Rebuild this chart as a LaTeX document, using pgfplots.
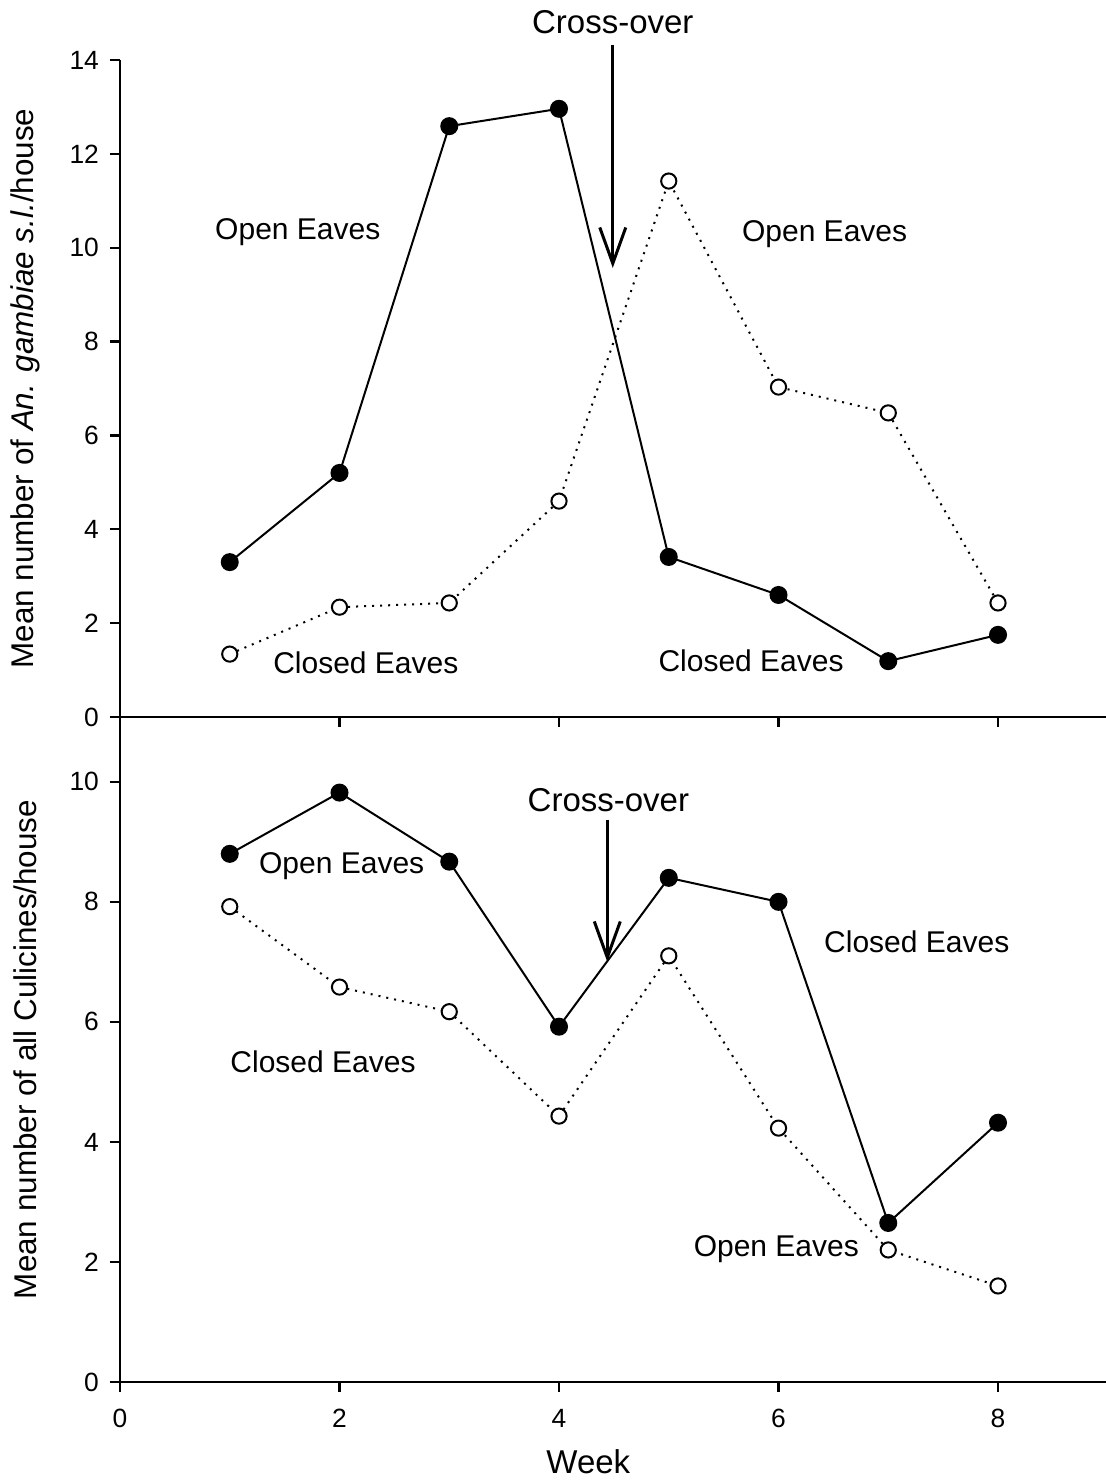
\documentclass[border=0pt]{standalone}
\usepackage{pgfplots}
\pgfplotsset{compat=1.18}
\usepackage{fontspec}
\setmainfont{Liberation Sans}
\usetikzlibrary{arrows.meta}

\pgfplotsset{
  panel/.style={
    scale only axis, width=493pt,
    xmin=0, xmax=8.984,
    axis x line=bottom, axis y line=left,
    axis line style={-, line width=1.3pt},
    tick align=outside, major tick length=5pt,
    tick style={line width=1.1pt, black},
    xtick={0,2,...,8},
    clip=false,
    tick label style={font=\fontsize{13.2}{15}\selectfont},
    x tick label style={yshift=-5pt},
    y tick label style={xshift=-2pt},
    label style={font=\fontsize{15.7}{18}\selectfont},
    /pgf/number format/assume math mode=true,
    y label style={at={(axis description cs:-0.0963,0.5)}, anchor=center},
  },
  filled/.style={black, line width=1pt, mark=*, mark size=4pt},
  hollow/.style={black, line width=1pt, dash pattern=on 1pt off 3pt,
    mark=*, mark size=3.8pt, mark options={solid, fill=white, line width=1pt}},
}
\tikzset{lbl/.style={font=\fontsize{15}{18}\selectfont},
  big/.style={font=\fontsize{16.5}{19}\selectfont}}

\begin{document}
\begin{tikzpicture}
\useasboundingbox (-60pt,-49.5pt) rectangle (493pt,691pt);

% top panel: An. gambiae
\begin{axis}[panel,
  at={(0,332.5pt)}, anchor=south west,
  height=328.5pt,
  ymin=0, ymax=14, ytick={0,2,...,14},
  xticklabels={},
  ylabel={Mean number of \textit{An. gambiae s.l.}/house},
]
\addplot[filled] coordinates {
  (1,3.30) (2,5.20) (3,12.59) (4,12.96) (5,3.41) (6,2.60) (7,1.19) (8,1.75)
};
\addplot[hollow] coordinates {
  (1,1.34) (2,2.34) (3,2.43) (4,4.60) (5,11.42) (6,7.03) (7,6.48) (8,2.43)
};
\draw[-{Straight Barb[length=18pt,width=13pt]}, line width=1.5pt]
  (axis cs:4.49,14.32) -- (axis cs:4.49,9.57);
\node[big] at (axis cs:4.49,14.8) {Cross-over};
\node[lbl] at (axis cs:1.62,10.33) {Open Eaves};
\node[lbl] at (axis cs:6.42,10.29) {Open Eaves};
\node[lbl] at (axis cs:2.24,1.15) {Closed Eaves};
\node[lbl] at (axis cs:5.75,1.19) {Closed Eaves};
\end{axis}

% bottom panel: all Culicines
\begin{axis}[panel,
  at={(0,0)}, anchor=south west,
  height=332.5pt,
  ymin=0, ymax=11.08, ytick={0,2,...,10},
  xlabel={Week},
  x label style={at={(axis description cs:0.475,0)}, anchor=center, yshift=-40pt,
    font=\fontsize{16.5}{19}\selectfont},
  ylabel={Mean number of all Culicines/house},
]
\addplot[filled] coordinates {
  (1,8.80) (2,9.82) (3,8.67) (4,5.92) (5,8.40) (6,8.00) (7,2.65) (8,4.32)
};
\addplot[hollow] coordinates {
  (1,7.92) (2,6.58) (3,6.17) (4,4.43) (5,7.10) (6,4.23) (7,2.20) (8,1.60)
};
\draw[-{Straight Barb[length=18pt,width=13pt]}, line width=1.5pt]
  (axis cs:4.44,9.37) -- (axis cs:4.44,7.0);
\node[big] at (axis cs:4.45,9.7) {Cross-over};
\node[lbl] at (axis cs:2.02,8.60) {Open Eaves};
\node[lbl] at (axis cs:7.26,7.33) {Closed Eaves};
\node[lbl] at (axis cs:1.85,5.33) {Closed Eaves};
\node[lbl] at (axis cs:5.98,2.22) {Open Eaves};
\end{axis}
\end{tikzpicture}
\end{document}
